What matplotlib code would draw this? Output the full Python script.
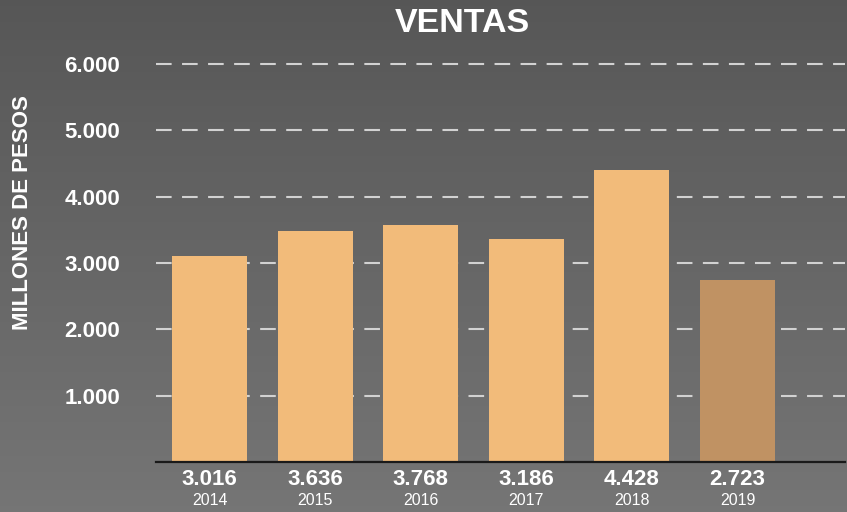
import numpy as np
import matplotlib.pyplot as plt

# datos
anios = ['2014', '2015', '2016', '2017', '2018', '2019']
etiquetas_valor = ['3.016', '3.636', '3.768', '3.186', '4.428', '2.723']
alturas_barras = [3100, 3480, 3580, 3360, 4400, 2740]
ticks_y = [1000, 2000, 3000, 4000, 5000, 6000]
ticks_y_texto = ['1.000', '2.000', '3.000', '4.000', '5.000', '6.000']
colores = ['#f2bb7a'] * 5 + ['#c09263']

plt.rcParams['font.family'] = ['Liberation Sans', 'DejaVu Sans']

fig = plt.figure(figsize=(8.47, 5.12), dpi=100)

# fondo gris oscuro con degradado vertical suave
bg = fig.add_axes([0, 0, 1, 1], zorder=-10)
g = np.linspace(0.34, 0.46, 256).reshape(-1, 1)
img = np.dstack([g, g, g])
bg.imshow(img, aspect='auto', extent=[0, 1, 0, 1], origin='upper')
bg.axis('off')

ax = fig.add_axes([156 / 847, 50 / 512, 689 / 847, 402 / 512])
ax.patch.set_alpha(0)

x = np.arange(len(anios))
ax.bar(x, alturas_barras, width=0.71, color=colores, zorder=3)

ax.set_xlim(-0.507, 6.018)
ax.set_ylim(0, 6060)

ax.set_yticks(ticks_y)
ax.set_yticklabels(ticks_y_texto)
ax.tick_params(axis='y', length=0, pad=26, labelsize=16, labelcolor='white')
for lbl in ax.get_yticklabels():
    lbl.set_fontweight('bold')

ax.yaxis.grid(True, color='#d2d2d2', linewidth=1.5, linestyle=(0, (7.5, 5)), zorder=1)
ax.set_xticks([])

for s in ['top', 'right', 'left']:
    ax.spines[s].set_visible(False)
ax.spines['bottom'].set_color('#1a1a1a')
ax.spines['bottom'].set_linewidth(1.6)
ax.spines['bottom'].set_zorder(4)

for i in range(len(anios)):
    ax.annotate(etiquetas_valor[i], (x[i], 0), xytext=(0, -12.6), textcoords='offset points',
                ha='center', va='center', color='white', fontsize=16, fontweight='bold')
    ax.annotate(anios[i], (x[i], 0), xytext=(0, -27.7), textcoords='offset points',
                ha='center', va='center', color='white', fontsize=11.5)

ax.set_ylabel('MILLONES DE PESOS', color='white', fontsize=16, fontweight='bold')
ax.yaxis.set_label_coords(-0.178, 0.62)

fig.text(462 / 847, 1 - 24 / 512, 'VENTAS', ha='center', va='center',
         color='white', fontsize=24.5, fontweight='bold')

plt.savefig('out.png', dpi=100)
